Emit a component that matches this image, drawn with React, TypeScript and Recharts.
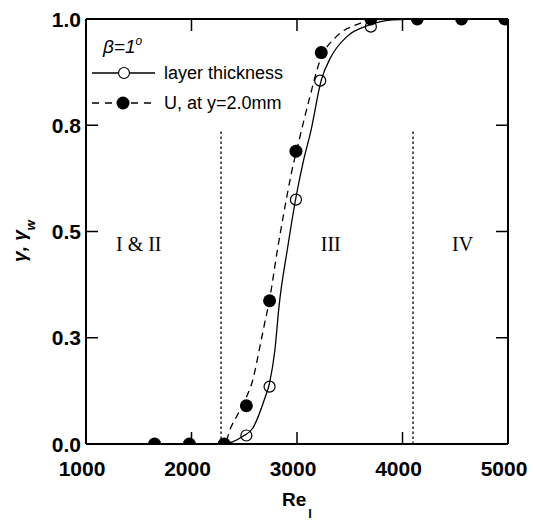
import React from 'react';
import { ComposedChart, Line, Scatter, XAxis, YAxis, ReferenceLine, ReferenceDot } from 'recharts';

const W = 533;
const H = 520;
const SANS = '"Liberation Sans", Arial, Helvetica, sans-serif';
const SERIF = '"Liberation Serif", "Times New Roman", serif';

const xTicks = [1000, 2000, 3000, 4000, 5000];
const yTicks = [0, 0.25, 0.5, 0.75, 1];
const yTickLabels = ['0.0', '0.3', '0.5', '0.8', '1.0'];

// layer thickness (open symbols)
const thicknessRe = [2520, 2740, 2990, 3220, 3700];
const thicknessGamma = [0.02, 0.135, 0.575, 0.855, 0.982];

// U at y=2.0mm (filled symbols)
const velocityRe = [1650, 1980, 2310, 2520, 2740, 2990, 3230, 3700, 4140, 4560, 4970];
const velocityGamma = [0, 0, 0, 0.09, 0.337, 0.689, 0.921, 1, 1, 1, 1];

// fitted curves
const thicknessFitRe = [2300, 2390, 2480, 2580, 2690, 2740, 2790, 2830, 2910, 2990, 3060, 3130, 3230, 3320, 3470, 3690, 3910, 4200, 5000];
const thicknessFitGamma = [0, 0.005, 0.017, 0.037, 0.104, 0.144, 0.22, 0.325, 0.46, 0.58, 0.665, 0.735, 0.856, 0.91, 0.958, 0.986, 0.998, 1, 1];

const velocityFitRe = [2120, 2310, 2375, 2450, 2520, 2580, 2645, 2690, 2740, 2810, 2880, 2945, 3025, 3120, 3215, 3370, 3560, 3720, 3900, 5000];
const velocityFitGamma = [0, 0, 0.04, 0.075, 0.11, 0.15, 0.225, 0.28, 0.34, 0.45, 0.55, 0.635, 0.72, 0.815, 0.9, 0.958, 0.986, 0.998, 1, 1];

// flow regime borders and labels
const regimeBorders = [2280, 4100];
const regimeTop = 0.74;
const regimeNames = ['I & II', 'III', 'IV'];
const regimeRe = [1500, 3320, 4570];
const regimeLabelGamma = 0.47;

const toPoints = (xs: number[], ys: number[]) => xs.map((re, i) => ({ re, gamma: ys[i] }));

const thicknessPts = toPoints(thicknessRe, thicknessGamma);
const velocityPts = toPoints(velocityRe, velocityGamma);
const thicknessFit = toPoints(thicknessFitRe, thicknessFitGamma);
const velocityFit = toPoints(velocityFitRe, velocityFitGamma);

const TICK = 12;

const BottomTick = ({ x, y, payload }: any) => (
  <g>
    <line x1={x} y1={y} x2={x} y2={y - TICK} stroke="#000" strokeWidth={1.5} />
    <text x={x - 4} y={y + 32} textAnchor="middle" fontFamily={SANS} fontWeight="bold" fontSize={21} fill="#000">
      {payload.value}
    </text>
  </g>
);

const TopTick = ({ x, y }: any) => (
  <line x1={x} y1={y} x2={x} y2={y + TICK} stroke="#000" strokeWidth={1.5} />
);

const LeftTick = ({ x, y, payload }: any) => (
  <g>
    <line x1={x} y1={y} x2={x + TICK} y2={y} stroke="#000" strokeWidth={1.5} />
    <text x={x - 5} y={y} dy="0.36em" textAnchor="end" fontFamily={SANS} fontWeight="bold" fontSize={21} fill="#000">
      {yTickLabels[yTicks.indexOf(payload.value)]}
    </text>
  </g>
);

const RightTick = ({ x, y }: any) => (
  <line x1={x} y1={y} x2={x - TICK} y2={y} stroke="#000" strokeWidth={1.5} />
);

const OpenDot = ({ cx, cy }: any) => (
  <circle cx={cx} cy={cy} r={5.5} fill="none" stroke="#000" strokeWidth={1.2} />
);

const FilledDot = ({ cx, cy }: any) => <circle cx={cx} cy={cy} r={6.5} fill="#000" />;

const regimeLabel = (text: string) => (p: any) => (
  <text
    x={p.viewBox.x}
    y={p.viewBox.y}
    dy="0.35em"
    textAnchor="middle"
    fontFamily={SERIF}
    fontSize={20}
    fill="#000"
  >
    {text}
  </text>
);

const axisLine = { stroke: '#000', strokeWidth: 2 };

export default function App() {
  return (
    <div style={{ position: 'absolute', left: 0, top: 0, width: W, height: H, background: '#fff' }}>
      <ComposedChart width={W} height={H} margin={{ top: 18, right: 24, bottom: 75, left: 85 }}>
        <XAxis
          dataKey="re"
          type="number"
          domain={[1000, 5000]}
          ticks={xTicks}
          interval={0}
          height={1}
          tickSize={0}
          tickMargin={0}
          tickLine={false}
          axisLine={axisLine}
          tick={BottomTick}
          allowDataOverflow
        />
        <XAxis
          xAxisId="top"
          orientation="top"
          dataKey="re"
          type="number"
          domain={[1000, 5000]}
          ticks={xTicks}
          interval={0}
          height={1}
          tickSize={0}
          tickMargin={0}
          tickLine={false}
          axisLine={axisLine}
          tick={TopTick}
          allowDataOverflow
        />
        <YAxis
          dataKey="gamma"
          type="number"
          domain={[0, 1]}
          ticks={yTicks}
          interval={0}
          width={1}
          tickSize={0}
          tickMargin={0}
          tickLine={false}
          axisLine={axisLine}
          tick={LeftTick}
          allowDataOverflow
        />
        <YAxis
          yAxisId="right"
          orientation="right"
          dataKey="gamma"
          type="number"
          domain={[0, 1]}
          ticks={yTicks}
          interval={0}
          width={1}
          tickSize={0}
          tickMargin={0}
          tickLine={false}
          axisLine={axisLine}
          tick={RightTick}
          allowDataOverflow
        />

        {regimeBorders.map((re) => (
          <ReferenceLine
            key={re}
            segment={[{ x: re, y: 0 }, { x: re, y: regimeTop }]}
            stroke="#000"
            strokeWidth={1.3}
            strokeDasharray="2.5 2.5"
          />
        ))}
        {regimeNames.map((name, i) => (
          <ReferenceDot
            key={name}
            x={regimeRe[i]}
            y={regimeLabelGamma}
            r={0}
            fill="none"
            stroke="none"
            label={{ content: regimeLabel(name) }}
          />
        ))}

        <Line
          data={thicknessFit}
          dataKey="gamma"
          type="monotone"
          stroke="#000"
          strokeWidth={1.3}
          dot={false}
          activeDot={false}
          isAnimationActive={false}
        />
        <Line
          data={velocityFit}
          dataKey="gamma"
          type="monotone"
          stroke="#000"
          strokeWidth={1.3}
          strokeDasharray="7 5"
          dot={false}
          activeDot={false}
          isAnimationActive={false}
        />
        <Scatter data={velocityPts} dataKey="gamma" shape={FilledDot} isAnimationActive={false} />
        <Scatter data={thicknessPts} dataKey="gamma" shape={OpenDot} isAnimationActive={false} />
      </ComposedChart>

      <svg
        width={W}
        height={H}
        style={{ position: 'absolute', left: 0, top: 0, pointerEvents: 'none' }}
      >
        {/* legend */}
        <text x={103} y={53} fontFamily={SANS} fontStyle="italic" fontSize={19} fill="#000">
          β=1<tspan dy={-8} fontSize={12}>o</tspan>
        </text>
        <line x1={92} y1={73} x2={155} y2={73} stroke="#000" strokeWidth={1.3} />
        <circle cx={124} cy={73} r={5.5} fill="#fff" stroke="#000" strokeWidth={1.2} />
        <text x={164} y={79} fontFamily={SANS} fontSize={18} fill="#000">layer thickness</text>
        <line x1={92} y1={103} x2={155} y2={103} stroke="#000" strokeWidth={1.3} strokeDasharray="7 6" />
        <circle cx={123} cy={103} r={6.5} fill="#000" />
        <text x={164} y={109} fontFamily={SANS} fontSize={18} fill="#000">U, at y=2.0mm</text>

        {/* axis titles */}
        <text
          transform="translate(26, 241) rotate(-90)"
          textAnchor="middle"
          fontFamily={SANS}
          fontWeight="bold"
          fontStyle="italic"
          fontSize={19}
          fill="#000"
        >
          γ, γ<tspan dy={9} fontSize={13}>w</tspan>
        </text>
        <text x={282} y={506} fontFamily={SANS} fontWeight="bold" fontSize={19} fill="#000">
          Re<tspan dy={12} dx={2} fontSize={13}>l</tspan>
        </text>
      </svg>
    </div>
  );
}
